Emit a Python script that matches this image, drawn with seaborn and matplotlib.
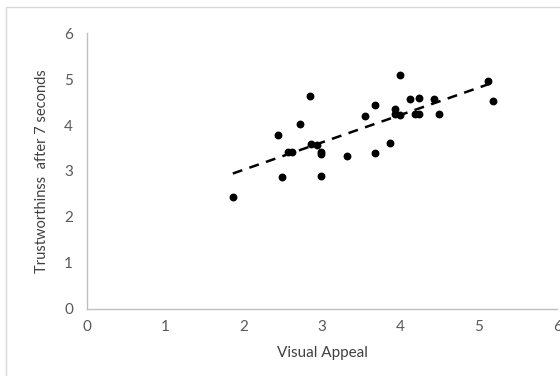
import numpy as np
import pandas as pd
import matplotlib
matplotlib.use("Agg")
import matplotlib.pyplot as plt
import seaborn as sns
from matplotlib.lines import Line2D

visual_appeal = [3.99, 5.11, 5.18, 2.85, 3.67, 4.12, 4.24, 4.43, 4.49, 3.93,
                 3.93, 3.99, 4.18, 4.24, 3.55, 2.72, 2.43, 2.86, 2.93, 2.99,
                 2.99, 2.56, 2.62, 3.31, 3.67, 3.86, 2.49, 2.99, 1.86]
trust_7s = [5.09, 4.96, 4.53, 4.64, 4.43, 4.56, 4.60, 4.56, 4.24, 4.36,
            4.25, 4.23, 4.24, 4.25, 4.20, 4.03, 3.78, 3.58, 3.56, 3.42,
            3.36, 3.42, 3.42, 3.32, 3.39, 3.62, 2.86, 2.89, 2.43]
ticks = [0, 1, 2, 3, 4, 5, 6]
x_label = "Visual Appeal"
y_label = "Trustworthinss  after 7 seconds"

df = pd.DataFrame({"x": visual_appeal, "y": trust_7s})

sns.set_theme(style="white")
plt.rcParams["font.family"] = ["Lato", "DejaVu Sans"]

fig = plt.figure(figsize=(5.6, 3.76), dpi=100)
ax = fig.add_axes([0.1554, 0.1795, 0.84, 0.7315])

sns.scatterplot(data=df, x="x", y="y", ax=ax, color="black", s=32,
                edgecolor="black", linewidth=0, zorder=3)

# linear trendline over the data range
coef = np.polyfit(df["x"], df["y"], 1)
xs = np.array([df["x"].min(), df["x"].max()])
ax.plot(xs, np.polyval(coef, xs), color="black", linestyle=(0, (4, 3)),
        linewidth=1.8, zorder=2)

ax.set_xlim(0, 6)
ax.set_ylim(0, 6)
ax.set_xticks(ticks)
ax.set_yticks(ticks)
ax.set_xticklabels([str(t) for t in ticks])
ax.set_yticklabels([str(t) for t in ticks])

gray = "#bfbfbf"
for side in ["top", "right"]:
    ax.spines[side].set_visible(False)
for side in ["left", "bottom"]:
    ax.spines[side].set_color(gray)
    ax.spines[side].set_linewidth(1.0)

ax.tick_params(axis="both", direction="in", length=4, width=1, color=gray,
               labelcolor="#595959", labelsize=11, pad=10)
ax.tick_params(axis="x", pad=8)

ax.set_xlabel(x_label, fontsize=11, color="#404040", labelpad=9)
ax.set_ylabel(y_label, fontsize=10.5, color="#404040", labelpad=11)

# outer chart border (top and left visible in the crop)
fig.add_artist(Line2D([6/560, 1.0], [1 - 7/376, 1 - 7/376],
                      transform=fig.transFigure, color="#d9d9d9", linewidth=1))
fig.add_artist(Line2D([6/560, 6/560], [0.0, 1 - 7/376],
                      transform=fig.transFigure, color="#d9d9d9", linewidth=1))

fig.savefig("out.png", dpi=100)
